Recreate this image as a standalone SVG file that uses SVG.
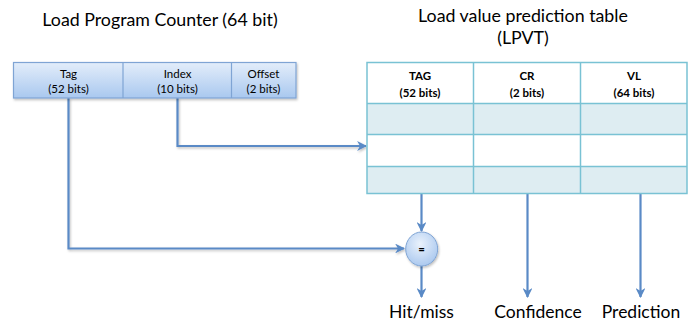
<svg xmlns="http://www.w3.org/2000/svg" width="696" height="325" viewBox="0 0 696 325">
<style>
.t{font-family:Lato,"Liberation Sans",sans-serif;fill:#000;text-anchor:middle}
.title{font-size:17.8px}
.sm{font-size:11.5px}
.b{font-weight:bold}
.lbl{font-size:17.5px}
.con{fill:none;stroke:#5a8ac6;stroke-width:2.2}
.pc{stroke:#7fa4d4;stroke-width:1.2}
.tb{stroke:#79c2d4;stroke-width:1.5}
</style>
<defs>
<linearGradient id="pcg" x1="0" y1="0" x2="0" y2="1">
<stop offset="0" stop-color="#e3edfa"/>
<stop offset="1" stop-color="#a9c8ef"/>
</linearGradient>
<radialGradient id="cg" cx="0.45" cy="0.35" r="0.7">
<stop offset="0" stop-color="#eaf2fc"/>
<stop offset="1" stop-color="#a7c6ee"/>
</radialGradient>
<filter id="sh" x="-10%" y="-10%" width="130%" height="140%">
<feDropShadow dx="1" dy="1.5" stdDeviation="1" flood-color="#000" flood-opacity="0.25"/>
</filter>
<marker id="ah" viewBox="0 0 10 10" refX="9" refY="5" markerWidth="4.5" markerHeight="4.5" orient="auto" markerUnits="strokeWidth">
<path d="M0,0 L10,5 L0,10 L3,5 Z" fill="#5a8ac6"/>
</marker>
</defs>

<text class="t title" x="160" y="26">Load Program Counter (64 bit)</text>
<text class="t title" x="523" y="22">Load value prediction table</text>
<text class="t title" x="523" y="44">(LPVT)</text>

<g id="connectors">
<path class="con" d="M68.5,98 V248.5 H404" marker-end="url(#ah)" filter="url(#sh)"/>
<path class="con" d="M177.5,98 V146 H366" marker-end="url(#ah)" filter="url(#sh)"/>
<path class="con" d="M421.5,194 V231" marker-end="url(#ah)"/>
<path class="con" d="M421.5,266 V297" marker-end="url(#ah)"/>
<path class="con" d="M527.5,194 V297" marker-end="url(#ah)"/>
<path class="con" d="M640.5,194 V297" marker-end="url(#ah)"/>
</g>

<g id="pc">
<g filter="url(#sh)">
<rect class="pc" x="13.5" y="62.5" width="282.5" height="35.5" fill="url(#pcg)"/>
</g>
<line class="pc" x1="123" y1="62.5" x2="123" y2="98"/>
<line class="pc" x1="231.5" y1="62.5" x2="231.5" y2="98"/>
<text class="t sm" x="68.5" y="77.5">Tag</text>
<text class="t sm" x="68.5" y="92.5">(52 bits)</text>
<text class="t sm" x="177.5" y="77.5">Index</text>
<text class="t sm" x="177.5" y="92.5">(10 bits)</text>
<text class="t sm" x="263.5" y="77.5">Offset</text>
<text class="t sm" x="263.5" y="92.5">(2 bits)</text>
</g>

<g id="lpvt">
<rect x="367" y="62.5" width="320" height="131" fill="#fff"/>
<rect x="367" y="103.5" width="320" height="31" fill="#deedf2"/>
<rect x="367" y="166.5" width="320" height="27" fill="#deedf2"/>
<rect class="tb" x="367" y="62.5" width="320" height="131" fill="none"/>
<line class="tb" x1="367" y1="103.5" x2="687" y2="103.5"/>
<line class="tb" x1="367" y1="134.5" x2="687" y2="134.5"/>
<line class="tb" x1="367" y1="166.5" x2="687" y2="166.5"/>
<line class="tb" x1="473.5" y1="62.5" x2="473.5" y2="193.5"/>
<line class="tb" x1="580.5" y1="62.5" x2="580.5" y2="193.5"/>
<text class="t sm b" x="420" y="80">TAG</text>
<text class="t sm b" x="420" y="96.5">(52 bits)</text>
<text class="t sm b" x="527" y="80">CR</text>
<text class="t sm b" x="527" y="96.5">(2 bits)</text>
<text class="t sm b" x="634" y="80">VL</text>
<text class="t sm b" x="634" y="96.5">(64 bits)</text>
</g>

<g id="cmp">
<ellipse cx="421.7" cy="249" rx="16" ry="17" fill="url(#cg)" stroke="#7fa4d4" stroke-width="1" filter="url(#sh)"/>
<text class="t sm b" x="421.7" y="253">=</text>
</g>

<g id="labels">
<text class="t lbl" x="421.5" y="318">Hit/miss</text>
<text class="t lbl" x="538" y="318">Confidence</text>
<text class="t lbl" x="641" y="318">Prediction</text>
</g>
</svg>
